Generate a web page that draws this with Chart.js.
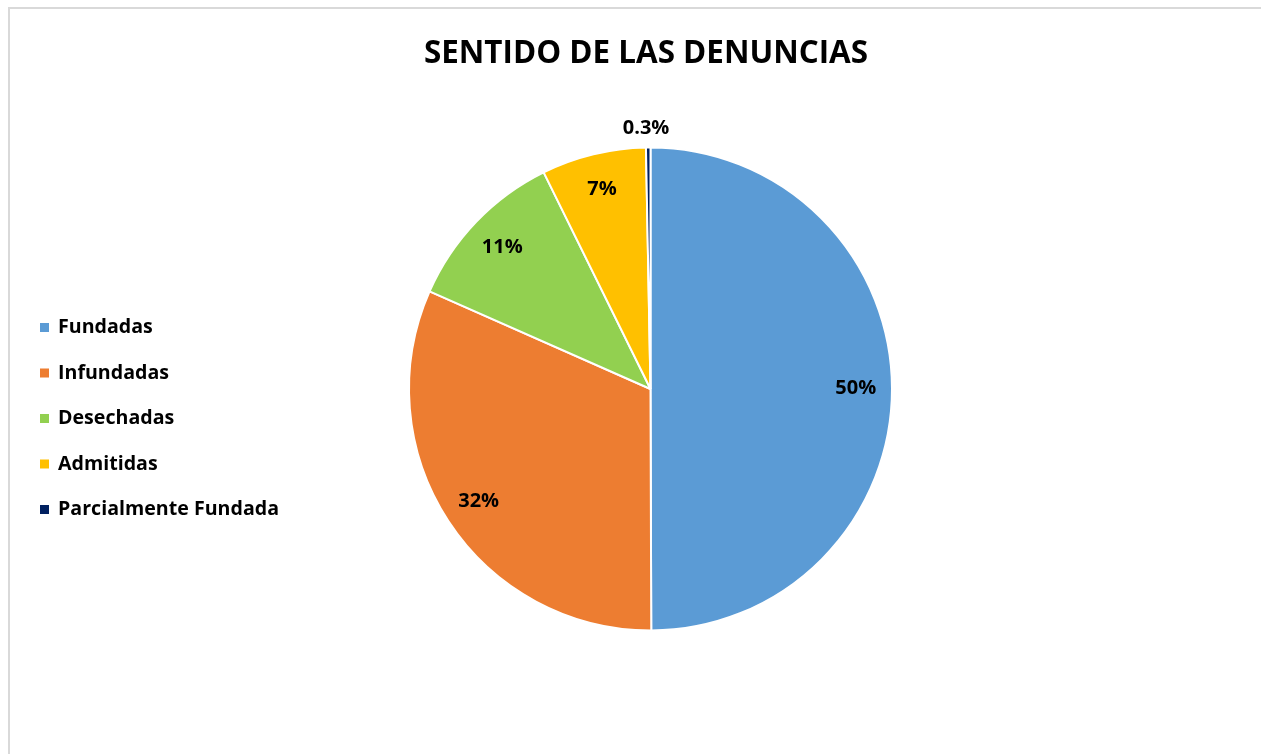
<!DOCTYPE html>
<html>
<head>
<meta charset="utf-8">
<script src="https://cdn.jsdelivr.net/npm/chart.js@4.4.1/dist/chart.umd.min.js"></script>
<style>
  html, body { margin: 0; padding: 0; background: #ffffff; }
  #wrap { position: relative; width: 1261px; height: 754px; overflow: hidden; }
  #frame { position: absolute; left: 8px; top: 7px; width: 1400px; height: 900px;
           border-left: 2px solid #d9d9d9; border-top: 2px solid #d9d9d9; }
  canvas { position: absolute; left: 0; top: 0; }
</style>
</head>
<body>
<div id="wrap">
  <div id="frame"></div>
  <canvas id="c" width="1261" height="754"></canvas>
</div>
<script>
const categories = ["Fundadas", "Infundadas", "Desechadas", "Admitidas", "Parcialmente Fundada"];
const values = [50.0, 31.7, 11.1, 7.0, 0.3];
const valueLabels = ["50%", "32%", "11%", "7%", "0.3%"];
const colors = ["#5B9BD5", "#ED7D31", "#92D050", "#FFC000", "#002060"];
const titleText = "SENTIDO DE LAS DENUNCIAS";

const FONT = "'Open Sans', Lato, sans-serif";

const overlay = {
  id: 'overlay',
  afterDraw(chart) {
    const ctx = chart.ctx;
    ctx.save();
    // Title, sized to span the same width as the reference
    ctx.fillStyle = '#000000';
    ctx.textAlign = 'center';
    ctx.textBaseline = 'middle';
    ctx.font = "bold 30px " + FONT;
    const tw = ctx.measureText(titleText).width;
    const tsize = (30 * 444 / tw).toFixed(1);
    ctx.font = "bold " + tsize + "px " + FONT;
    ctx.fillText(titleText, 646, 54);

    // Data labels
    const meta = chart.getDatasetMeta(0);
    ctx.font = "bold 20px " + FONT;
    meta.data.forEach((arc, i) => {
      const p = arc.getProps(['x', 'y', 'startAngle', 'endAngle', 'outerRadius'], true);
      const mid = (p.startAngle + p.endAngle) / 2;
      const frac = (p.endAngle - p.startAngle) / (2 * Math.PI);
      const d = frac < 0.01 ? p.outerRadius + 19 : p.outerRadius * 0.85;
      const lx = p.x + Math.cos(mid) * d - (frac < 0.01 ? 2 : 0);
      const ly = p.y + Math.sin(mid) * d;
      ctx.fillText(valueLabels[i], lx, ly);
    });

    // Legend
    ctx.textAlign = 'left';
    const labels = chart.data.labels;
    const bg = chart.data.datasets[0].backgroundColor;
    ctx.font = "bold 19px " + FONT;
    const scaleW = 221 / ctx.measureText(labels[labels.length - 1]).width;
    labels.forEach((lab, i) => {
      const y = 328 + i * 45.5;
      ctx.fillStyle = bg[i];
      ctx.fillRect(40, y - 5, 9, 9);
      ctx.fillStyle = '#000000';
      ctx.save();
      ctx.translate(58, y);
      ctx.scale(scaleW, 1);
      ctx.fillText(lab, 0, 0);
      ctx.restore();
    });
    ctx.restore();
  }
};

new Chart(document.getElementById('c'), {
  type: 'pie',
  data: {
    labels: categories,
    datasets: [{
      data: values,
      backgroundColor: colors,
      borderColor: '#ffffff',
      borderWidth: 2
    }]
  },
  options: {
    responsive: false,
    animation: false,
    layout: { padding: { left: 408, right: 368, top: 146, bottom: 122 } },
    plugins: {
      legend: { display: false },
      title: { display: false },
      tooltip: { enabled: false }
    }
  },
  plugins: [overlay]
});
</script>
</body>
</html>
